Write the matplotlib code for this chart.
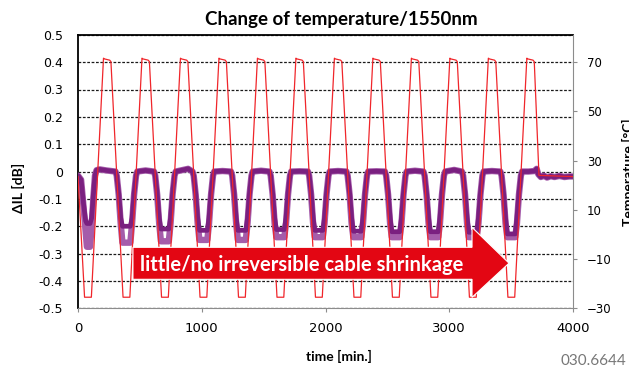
"""Temperature cycling test: change of insertion loss at 1550 nm."""

import matplotlib

matplotlib.use("Agg")
import matplotlib.pyplot as plt  # noqa: E402
from matplotlib.patches import Polygon  # noqa: E402

# chamber temperature (deg C) over time (min.)
temp_time = [
    0,
    53, 108, 206, 214, 256, 266,
    364, 419, 517, 525, 567, 577,
    675, 730, 828, 836, 878, 888,
    986, 1041, 1139, 1147, 1189, 1199,
    1297, 1352, 1450, 1458, 1500, 1510,
    1608, 1663, 1761, 1769, 1811, 1821,
    1919, 1974, 2072, 2080, 2122, 2132,
    2230, 2285, 2383, 2391, 2433, 2443,
    2541, 2596, 2694, 2702, 2744, 2754,
    2852, 2907, 3005, 3013, 3055, 3065,
    3163, 3218, 3316, 3324, 3366, 3376,
    3474, 3529, 3627, 3635, 3677, 3687,
    3725, 4000,
]
temp_value = [
    23.5,
    -25.5, -25.5, 71.6, 71.3, 70.8, 70.2,
    -25.5, -25.5, 71.6, 71.3, 70.8, 70.2,
    -25.5, -25.5, 71.6, 71.3, 70.8, 70.2,
    -25.5, -25.5, 71.6, 71.3, 70.8, 70.2,
    -25.5, -25.5, 71.6, 71.3, 70.8, 70.2,
    -25.5, -25.5, 71.6, 71.3, 70.8, 70.2,
    -25.5, -25.5, 71.6, 71.3, 70.8, 70.2,
    -25.5, -25.5, 71.6, 71.3, 70.8, 70.2,
    -25.5, -25.5, 71.6, 71.3, 70.8, 70.2,
    -25.5, -25.5, 71.6, 71.3, 70.8, 70.2,
    -25.5, -25.5, 71.6, 71.3, 70.8, 70.2,
    -25.5, -25.5, 71.6, 71.3, 70.8, 70.2,
    24.0, 23.5,
]

# insertion loss change (dB), two fibres, sampled at the same times
il_time = [
    0, 25, 45, 62, 72, 97, 110, 125, 137, 150,
    175, 230,
    303, 313, 329, 345, 359, 423, 437, 453, 469, 479,
    546,
    614, 624, 640, 656, 670, 734, 748, 764, 780, 790,
    890,
    925, 935, 951, 967, 981, 1045, 1059, 1075, 1091, 1101,
    1168,
    1236, 1246, 1262, 1278, 1292, 1356, 1370, 1386, 1402, 1412,
    1479,
    1547, 1557, 1573, 1589, 1603, 1667, 1681, 1697, 1713, 1723,
    1790,
    1858, 1868, 1884, 1900, 1914, 1978, 1992, 2008, 2024, 2034,
    2101,
    2169, 2179, 2195, 2211, 2225, 2289, 2303, 2319, 2335, 2345,
    2412,
    2480, 2490, 2506, 2522, 2536, 2600, 2614, 2630, 2646, 2656,
    2723,
    2791, 2801, 2817, 2833, 2847, 2911, 2925, 2941, 2957, 2967,
    3040,
    3102, 3112, 3128, 3144, 3158, 3222, 3236, 3252, 3268, 3278,
    3345,
    3413, 3423, 3439, 3455, 3469, 3533, 3547, 3563, 3579, 3589,
    3640, 3690, 3706, 3720, 3740, 3765, 3790, 3820, 3850, 3890, 3930, 3970, 4000,
]
il_dark = [
    -0.015, -0.03, -0.12, -0.18, -0.19, -0.19, -0.17, -0.08, -0.015, 0.005,
    0.008, 0.004,
    0.0, -0.015, -0.08, -0.17, -0.20, -0.20, -0.17, -0.08, -0.015, 0.0,
    0.004,
    0.0, -0.015, -0.08, -0.17, -0.21, -0.21, -0.17, -0.08, -0.015, 0.0,
    0.01,
    0.0, -0.015, -0.08, -0.17, -0.215, -0.215, -0.17, -0.08, -0.015, 0.0,
    0.002,
    0.0, -0.015, -0.08, -0.17, -0.215, -0.215, -0.17, -0.08, -0.015, 0.0,
    0.003,
    0.0, -0.015, -0.08, -0.17, -0.212, -0.212, -0.17, -0.08, -0.015, 0.0,
    0.001,
    0.0, -0.015, -0.08, -0.17, -0.215, -0.215, -0.17, -0.08, -0.015, 0.0,
    0.002,
    0.0, -0.015, -0.08, -0.17, -0.218, -0.218, -0.17, -0.08, -0.015, 0.0,
    0.001,
    0.0, -0.015, -0.08, -0.17, -0.22, -0.22, -0.17, -0.08, -0.015, 0.0,
    0.003,
    0.0, -0.015, -0.08, -0.17, -0.22, -0.22, -0.17, -0.08, -0.015, 0.0,
    0.006,
    0.0, -0.015, -0.08, -0.17, -0.222, -0.222, -0.17, -0.08, -0.015, 0.0,
    0.002,
    0.0, -0.015, -0.08, -0.17, -0.228, -0.228, -0.17, -0.08, -0.015, 0.0,
    0.0, 0.002, 0.01, -0.01, -0.02, -0.015, -0.022, -0.017, -0.02, -0.016, -0.02, -0.018, -0.018,
]
il_light = [
    -0.015, -0.03, -0.13, -0.22, -0.275, -0.275, -0.20, -0.09, -0.015, 0.005,
    0.008, 0.004,
    0.0, -0.015, -0.085, -0.19, -0.26, -0.26, -0.19, -0.085, -0.015, 0.0,
    0.004,
    0.0, -0.015, -0.085, -0.19, -0.255, -0.255, -0.19, -0.085, -0.015, 0.0,
    0.01,
    0.0, -0.015, -0.085, -0.19, -0.25, -0.25, -0.19, -0.085, -0.015, 0.0,
    0.002,
    0.0, -0.015, -0.085, -0.19, -0.25, -0.25, -0.19, -0.085, -0.015, 0.0,
    0.003,
    0.0, -0.015, -0.085, -0.19, -0.24, -0.24, -0.19, -0.085, -0.015, 0.0,
    0.001,
    0.0, -0.015, -0.085, -0.19, -0.24, -0.24, -0.19, -0.085, -0.015, 0.0,
    0.002,
    0.0, -0.015, -0.085, -0.19, -0.24, -0.24, -0.19, -0.085, -0.015, 0.0,
    0.001,
    0.0, -0.015, -0.085, -0.19, -0.24, -0.24, -0.19, -0.085, -0.015, 0.0,
    0.003,
    0.0, -0.015, -0.085, -0.19, -0.24, -0.24, -0.19, -0.085, -0.015, 0.0,
    0.006,
    0.0, -0.015, -0.085, -0.19, -0.24, -0.24, -0.19, -0.085, -0.015, 0.0,
    0.002,
    0.0, -0.015, -0.085, -0.19, -0.24, -0.24, -0.19, -0.085, -0.015, 0.0,
    0.0, 0.002, 0.01, -0.01, -0.02, -0.015, -0.022, -0.017, -0.02, -0.016, -0.02, -0.018, -0.018,
]

x_ticks = [0, 1000, 2000, 3000, 4000]
il_ticks = [0.5, 0.4, 0.3, 0.2, 0.1, 0, -0.1, -0.2, -0.3, -0.4, -0.5]
il_tick_labels = ["0.5", "0.4", "0.3", "0.2", "0.1", "0", "-0.1", "-0.2", "-0.3", "-0.4", "-0.5"]
temp_ticks = [-30, -10, 10, 30, 50, 70]

# arrow callout, in (time, dB) coordinates
arrow_outline = [
    (444, -0.277), (3184, -0.277), (3184, -0.204), (3483, -0.335),
    (3184, -0.460), (3184, -0.394), (444, -0.394),
]
arrow_text = "little/no irreversible cable shrinkage"

TEXT_FONT = ["Lato", "DejaVu Sans"]
RED = "#E30613"

fig = plt.figure(figsize=(6.29, 3.70), dpi=100)
ax = fig.add_axes([78 / 629, 1 - 308.3 / 370, 495 / 629, 273.5 / 370])
ax2 = ax.twinx()

ax.plot(il_time, il_light, color="#A55CAA", linewidth=4.6, solid_joinstyle="round",
        solid_capstyle="round", zorder=3)
ax.plot(il_time, il_dark, color="#7A2080", linewidth=3.4, solid_joinstyle="round",
        solid_capstyle="round", zorder=4)
ax2.plot(temp_time, temp_value, color="#F0262B", linewidth=0.9, zorder=3)

ax.set_xlim(0, 4000)
ax.set_ylim(-0.5, 0.5)
ax2.set_ylim(-30, 81.1)
ax.set_xticks(x_ticks)
ax.set_yticks(il_ticks)
ax.set_yticklabels(il_tick_labels)
ax2.set_yticks(temp_ticks)

ax.yaxis.grid(True, linestyle=(0, (2.2, 1.3)), color="#1a1a1a", linewidth=0.9)
ax.set_axisbelow(True)

for name in ("left", "top"):
    ax.spines[name].set_color("black")
    ax.spines[name].set_linewidth(1.3)
ax.spines["bottom"].set_color("#8c8c8c")
ax.spines["right"].set_visible(False)
for name in ("left", "top", "bottom"):
    ax2.spines[name].set_visible(False)
ax2.spines["right"].set_color("#8c8c8c")

ax.tick_params(axis="y", length=0, pad=11, labelsize=9)
ax.tick_params(axis="x", length=3, color="#8c8c8c", pad=7, labelsize=9.5)
ax2.tick_params(axis="y", length=3, color="#8c8c8c", pad=7, labelsize=8.5)

# callout arrow above both curves
ax2.add_patch(Polygon(arrow_outline, closed=True, facecolor=RED, edgecolor="white",
                      linewidth=0.8, transform=ax.transData, zorder=10))
ax2.text(1810, -0.335, arrow_text, transform=ax.transData, color="white",
         fontsize=14.5, fontweight="bold", family=TEXT_FONT, ha="center", va="center_baseline",
         zorder=11)

fig.text(341 / 629, 1 - 20 / 370, "Change of temperature/1550nm", fontsize=13.5,
         fontweight="bold", family=TEXT_FONT, ha="center", va="center")
fig.text(18 / 629, 1 - 188 / 370, "ΔIL [dB]", rotation=90, fontsize=10, fontweight="bold",
         family=TEXT_FONT, ha="center", va="center")
fig.text(628 / 629, 1 - 172.5 / 370, "Temperature [°C]", rotation=90, fontsize=10,
         fontweight="bold", family=TEXT_FONT, ha="center", va="center")
fig.text(339 / 629, 1 - 356 / 370, "time [min.]", fontsize=10, fontweight="bold",
         family=TEXT_FONT, ha="center", va="center")
fig.text(626 / 629, 1 - 361 / 370, "030.6644", fontsize=11, color="#777777",
         family=TEXT_FONT, ha="right", va="center")

fig.savefig("out.png", dpi=100)
